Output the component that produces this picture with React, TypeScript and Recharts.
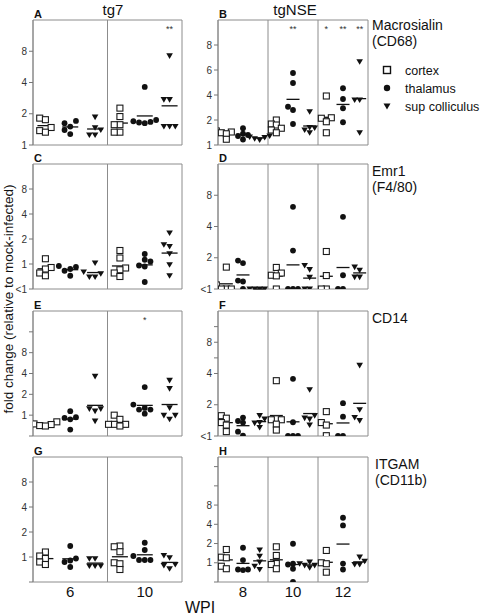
import React from 'react';
import { ScatterChart, Scatter, XAxis, YAxis, ReferenceLine, ReferenceArea } from 'recharts';

const FONT = 'Arial, "Liberation Sans", sans-serif';

const TISSUES = ['cortex', 'thalamus', 'sup colliculus'];
const WPI_TG7 = ['6', '10'];
const WPI_NSE = ['8', '10', '12'];
const GENES = [['Macrosialin', '(CD68)'], ['Emr1', '(F4/80)'], ['CD14'], ['ITGAM', '(CD11b)']];

// log2 fold change vs mock-infected, one inner list per WPI
const A_CORTEX = [[0.86, 0.81, 0.56, 0.46, 0.41], [1.18, 0.91, 0.65, 0.65, 0.41, 0.41]];
const A_THALAMUS = [[0.77, 0.7, 0.59, 0.48, 0.35], [1.86, 0.8, 0.76, 0.74, 0.72, 0.7]];
const A_SUP = [[0.89, 0.55, 0.48, 0.32, 0.32], [2.85, 1.45, 1.45, 0.59, 0.59, 0.59]];

const B_CORTEX = [[0.56, 0.52, 0.49, 0.45, 0.23], [1.0, 0.84, 0.8, 0.67, 0.6, 0.49], [1.96, 1.09, 1.07, 0.93, 0.49]];
const B_THALAMUS = [[0.67, 0.45, 0.4, 0.36, 0.22], [2.88, 2.48, 1.53, 1.4, 0.84], [2.27, 1.84, 1.47, 0.91]];
const B_SUP = [[0.36, 0.32, 0.3, 0.25, 0.2], [1.33, 0.7, 0.68, 0.6, 0.49], [3.33, 1.8, 1.8, 0.49]];

const C_CORTEX = [[0.21, -0.14, -0.2, -0.36, -0.47], [0.54, 0.24, -0.16, -0.23, -0.36, -0.5]];
const C_THALAMUS = [[-0.08, -0.12, -0.2, -0.27, -0.47], [0.4, 0.17, 0.1, -0.06, -0.1, -0.72]];
const C_SUP = [[0.04, -0.32, -0.39, -0.52, -0.52], [1.24, 0.77, 0.7, 0.41, -0.03, -0.47]];

const D_CORTEX = [[0.7, 0.13, 0, 0, 0], [0.69, 0.51, 0.44, 0.42, 0], [1.2, 0.43, 0, 0]];
const D_THALAMUS = [[0.91, 0.83, 0.27, 0.24, 0], [2.63, 1.23, 0, 0, 0], [2.31, 0.44, 0, 0]];
const D_SUP = [[0, 0, 0, 0], [0.75, 0.62, 0.37, 0, 0], [0.7, 0.6, 0.38, 0.38]];

const E_CORTEX = [[-0.32, -0.42, -0.45, -0.5, -0.52], [0, -0.2, -0.44, -0.44, -0.44, -0.52]];
const E_THALAMUS = [[0.19, -0.1, -0.13, -0.2, -0.69], [1.35, 0.51, 0.35, 0.27, 0.27, 0.07]];
const E_SUP = [[1.86, 0.3, 0.3, 0.19, -0.29], [1.67, 1.27, 0.35, -0.01, -0.01, -0.2]];

const F_CORTEX = [[0.65, 0.57, 0.43, 0.35, 0.14], [1.77, 0.55, 0.52, 0.52, 0.38, 0.19], [0.78, 0.43, 0.35, 0.01]];
const F_THALAMUS = [[0.59, 0.48, 0.43, 0.14, 0.01], [1.83, 0.44, 0, 0, 0], [1.05, 0.62, 0, 0]];
const F_SUP = [[0.65, 0.54, 0.43, 0.41, 0.27], [1.48, 0.65, 0.57, 0.54, 0.35], [2.26, 0.84, 0.59, 0.49]];

const G_CORTEX = [[0.2, 0.04, -0.06, -0.2, -0.3], [0.44, 0.41, 0.21, -0.23, -0.27, -0.5]];
const G_THALAMUS = [[0.44, -0.06, -0.14, -0.2, -0.4], [0.57, 0.28, 0.04, -0.12, -0.12, -0.12]];
const G_SUP = [[-0.07, -0.07, -0.36, -0.36, -0.36], [0.06, -0.03, -0.3, -0.34, -0.47]];

const H_CORTEX = [[0.69, 0.29, 0.26, -0.18, -0.31], [0.83, 0.38, -0.04, -0.09, -0.31], [0.64, 0, -0.05, -0.49]];
const H_THALAMUS = [[0.78, 0.14, -0.35, -0.35, -0.38], [0.99, -0.05, -0.09, -0.31, -0.99], [2.34, 1.94, -0.04, -0.35]];
const H_SUP = [[0.66, 0.34, 0.03, -0.18, -0.35], [0.03, -0.05, -0.14, -0.14, -0.26], [0.29, 0.08, -0.09, -0.09]];

// y ticks: [log2 position, label]
const TICKS_A = [[0, '1'], [1, '2'], [2, '4'], [3, '8']];
const TICKS_B = [[0, '1'], [1, '2'], [2, '4'], [3, '6'], [4, '8']];
const TICKS_C = [[-1, '<1'], [0, '1'], [1, '2'], [2, '4'], [3, '8']];
const TICKS_D = [[0, '<1'], [1, '2'], [2, '4'], [3, '8']];
const TICKS_E = [[-1, ''], [0, '1'], [1, '2'], [2, '4'], [3, '8'], [4, '']];
const TICKS_F = [[0, '<1'], [1, '2'], [2, '4'], [2.5, ''], [3, '8'], [3.5, '']];
const TICKS_G = [[-1, ''], [0, '1'], [1, '2'], [2, '4'], [3, '8']];
const TICKS_H = [[-1, ''], [0, '1'], [1, '2'], [2, '4'], [3, '8'], [4, ''], [5, '']];

// significance: [group index, mark]
const STARS_A = [[5, '**']];
const STARS_B = [[4, '**'], [6, '*'], [7, '**'], [8, '**']];
const STARS_E = [[4, '*']];

const PLOT_H = 125;
const AXIS_W = 30;
const PAD = 9;

const PANELS = [
  { id: 'A', x: 33, y: 20, w: 149, lo: 0, hi: 4, ticks: TICKS_A, data: [A_CORTEX, A_THALAMUS, A_SUP], stars: STARS_A },
  { id: 'B', x: 218, y: 20, w: 150, lo: 0, hi: 5, ticks: TICKS_B, data: [B_CORTEX, B_THALAMUS, B_SUP], stars: STARS_B },
  { id: 'C', x: 33, y: 164, w: 149, lo: -1, hi: 4, ticks: TICKS_C, data: [C_CORTEX, C_THALAMUS, C_SUP], stars: [] },
  { id: 'D', x: 218, y: 164, w: 150, lo: 0, hi: 4, ticks: TICKS_D, data: [D_CORTEX, D_THALAMUS, D_SUP], stars: [] },
  { id: 'E', x: 33, y: 311, w: 149, lo: -1, hi: 5, ticks: TICKS_E, data: [E_CORTEX, E_THALAMUS, E_SUP], stars: STARS_E },
  { id: 'F', x: 218, y: 311, w: 150, lo: 0, hi: 4, ticks: TICKS_F, data: [F_CORTEX, F_THALAMUS, F_SUP], stars: [] },
  { id: 'G', x: 33, y: 457, w: 149, lo: -1, hi: 4, ticks: TICKS_G, data: [G_CORTEX, G_THALAMUS, G_SUP], stars: [] },
  { id: 'H', x: 218, y: 457, w: 150, lo: -1, hi: 5.5, ticks: TICKS_H, data: [H_CORTEX, H_THALAMUS, H_SUP], stars: [] },
];

const avg = (v: number[]) => v.reduce((s, a) => s + a, 0) / v.length;

// simple beeswarm: spread points sideways when they would overlap
function swarm(vals: number[], center: number, pxX: number, pxY: number, d: number) {
  const placed: { x: number; y: number }[] = [];
  const out: { x: number; y: number }[] = [];
  const order = vals.map((v, i) => ({ v, i })).sort((a, b) => a.v - b.v);
  for (const { v, i } of order) {
    const py = v * pxY;
    let best = 0;
    let bestGap = -1;
    for (let k = 0; k < 5; k++) {
      const off = k === 0 ? 0 : (k % 2 ? -1 : 1) * Math.ceil(k / 2) * d;
      const gap = placed.length ? Math.min(...placed.map((p) => Math.hypot(p.x - off, p.y - py))) : 99;
      if (gap >= d) { best = off; bestGap = gap; break; }
      if (gap > bestGap) { best = off; bestGap = gap; }
    }
    placed.push({ x: best, y: py });
    out[i] = { x: center + best / pxX, y: v };
  }
  return out;
}

const Square = (p: any) => <rect x={p.cx - 3} y={p.cy - 3} width={6} height={6} fill="#fff" stroke="#1a1a1a" strokeWidth={1.1} />;
const Dot = (p: any) => <circle cx={p.cx} cy={p.cy} r={2.9} fill="#111" />;
const Tri = (p: any) => <path d={`M${p.cx - 3.3},${p.cy - 2.6}L${p.cx + 3.3},${p.cy - 2.6}L${p.cx},${p.cy + 3}Z`} fill="#111" />;
const Star = (p: any) => (
  <text x={p.cx} y={p.cy + 4} textAnchor="middle" fontSize={9} fill="#333" fontFamily={FONT}>{p.payload.mark}</text>
);
const SHAPES = [Square, Dot, Tri];

function Panel({ p }: { p: any }) {
  const nW = p.data[0].length;
  const nG = nW * 3;
  const pxX = p.w / nG;
  const pxY = PLOT_H / (p.hi - p.lo);
  const d = nW === 3 ? 5 : 5.7;
  const hw = (nW === 3 ? 6.5 : 8) / pxX;
  const labels = new Map(p.ticks.map((t: any) => [t[0], t[1]]));
  const series = p.data.map((tissue: number[][], t: number) =>
    tissue.flatMap((vals, wi) => swarm(vals, wi * 3 + t + 0.5, pxX, pxY, d)));
  const means = p.data.flatMap((tissue: number[][], t: number) =>
    tissue.map((vals, wi) => ({ c: wi * 3 + t + 0.5, m: avg(vals) })));
  const starY = p.hi - 0.06 * (p.hi - p.lo);
  const stars = p.stars.map((s: any) => ({ x: s[0] + 0.5, y: starY, mark: s[1] }));

  return (
    <div style={{ position: 'absolute', left: p.x - AXIS_W, top: p.y - PAD }}>
      <ScatterChart width={p.w + AXIS_W + PAD} height={PLOT_H + 2 * PAD} margin={{ top: PAD, right: PAD, bottom: PAD, left: 0 }}>
        <XAxis type="number" dataKey="x" domain={[0, nG]} hide allowDataOverflow />
        <YAxis
          type="number"
          dataKey="y"
          domain={[p.lo, p.hi]}
          ticks={p.ticks.map((t: any) => t[0])}
          tickFormatter={(v: number) => labels.get(v) ?? ''}
          interval={0}
          width={AXIS_W}
          allowDataOverflow
          tickSize={4}
          tick={{ fontSize: 10, fill: '#333', fontFamily: FONT }}
          tickLine={{ stroke: '#777' }}
          axisLine={{ stroke: '#888' }}
        />
        <ReferenceArea x1={0} x2={nG} y1={p.lo} y2={p.hi} fill="none" fillOpacity={0} stroke="#8c8c8c" strokeWidth={1} />
        {Array.from({ length: nW - 1 }, (_, i) => (
          <ReferenceLine key={`div-${i}`} x={(i + 1) * 3} stroke="#8c8c8c" strokeWidth={1} />
        ))}
        {means.map((mm: any, i: number) => (
          <ReferenceLine
            key={`mean-${i}`}
            segment={[{ x: mm.c - hw, y: mm.m }, { x: mm.c + hw, y: mm.m }]}
            stroke="#111"
            strokeWidth={1.3}
            ifOverflow="visible"
          />
        ))}
        {series.map((s: any, t: number) => (
          <Scatter key={TISSUES[t]} name={TISSUES[t]} data={s} shape={SHAPES[t]} isAnimationActive={false} />
        ))}
        {stars.length > 0 && <Scatter name="sig" data={stars} shape={Star} isAnimationActive={false} />}
      </ScatterChart>
    </div>
  );
}

const Txt = ({ x, y, size, children, bold, anchor = 'center' }: any) => (
  <div
    style={{
      position: 'absolute',
      left: x,
      top: y,
      fontSize: size,
      fontWeight: bold ? 700 : 400,
      lineHeight: 1,
      whiteSpace: 'nowrap',
      color: '#111',
      transform: anchor === 'center' ? 'translate(-50%, -50%)' : 'translate(0, -50%)',
    }}
  >
    {children}
  </div>
);

const LegendMark = ({ i }: { i: number }) => (
  <svg width={10} height={10} style={{ position: 'absolute', left: 382, top: [70, 88, 106][i] - 5 }}>
    {i === 0 && <rect x={1.5} y={1.5} width={7} height={7} fill="#fff" stroke="#111" strokeWidth={1.4} />}
    {i === 1 && <circle cx={5} cy={5} r={3.2} fill="#111" />}
    {i === 2 && <path d="M1.5,2.5L8.5,2.5L5,8.5Z" fill="#111" />}
  </svg>
);

export default function App() {
  const geneTops = [25, 171, 318, 464];
  return (
    <div style={{ position: 'absolute', left: 0, top: 0, width: 480, height: 616, background: '#fff', fontFamily: FONT }}>
      {PANELS.map((p) => <Panel key={p.id} p={p} />)}
      {PANELS.map((p) => (
        <Txt key={`l-${p.id}`} x={p.x + 1} y={p.y - 6} size={11} bold anchor="left">{p.id}</Txt>
      ))}
      <Txt x={113} y={9} size={15}>tg7</Txt>
      <Txt x={295} y={9} size={15}>tgNSE</Txt>
      {GENES.map((g, i) => g.map((line, j) => (
        <Txt key={`g-${i}-${j}`} x={i === 3 ? 375 : 372} y={geneTops[i] + j * 15.5} size={14} anchor="left">{line}</Txt>
      )))}
      {TISSUES.map((t, i) => (
        <React.Fragment key={t}>
          <LegendMark i={i} />
          <Txt x={405} y={[71, 89, 107][i]} size={12.5} anchor="left">{t}</Txt>
        </React.Fragment>
      ))}
      <div
        style={{
          position: 'absolute', left: 9, top: 299, fontSize: 13.5, whiteSpace: 'nowrap', color: '#111', lineHeight: 1,
          transform: 'translate(-50%, -50%) rotate(-90deg)',
        }}
      >
        fold change (relative to mock-infected)
      </div>
      {WPI_TG7.map((w, i) => (
        <Txt key={`w7-${w}`} x={33 + 149 * (i * 2 + 1) / 4} y={591} size={15}>{w}</Txt>
      ))}
      {WPI_NSE.map((w, i) => (
        <Txt key={`wn-${w}`} x={218 + 150 * (i * 2 + 1) / 6} y={591} size={15}>{w}</Txt>
      ))}
      <Txt x={200} y={608} size={16}>WPI</Txt>
    </div>
  );
}
